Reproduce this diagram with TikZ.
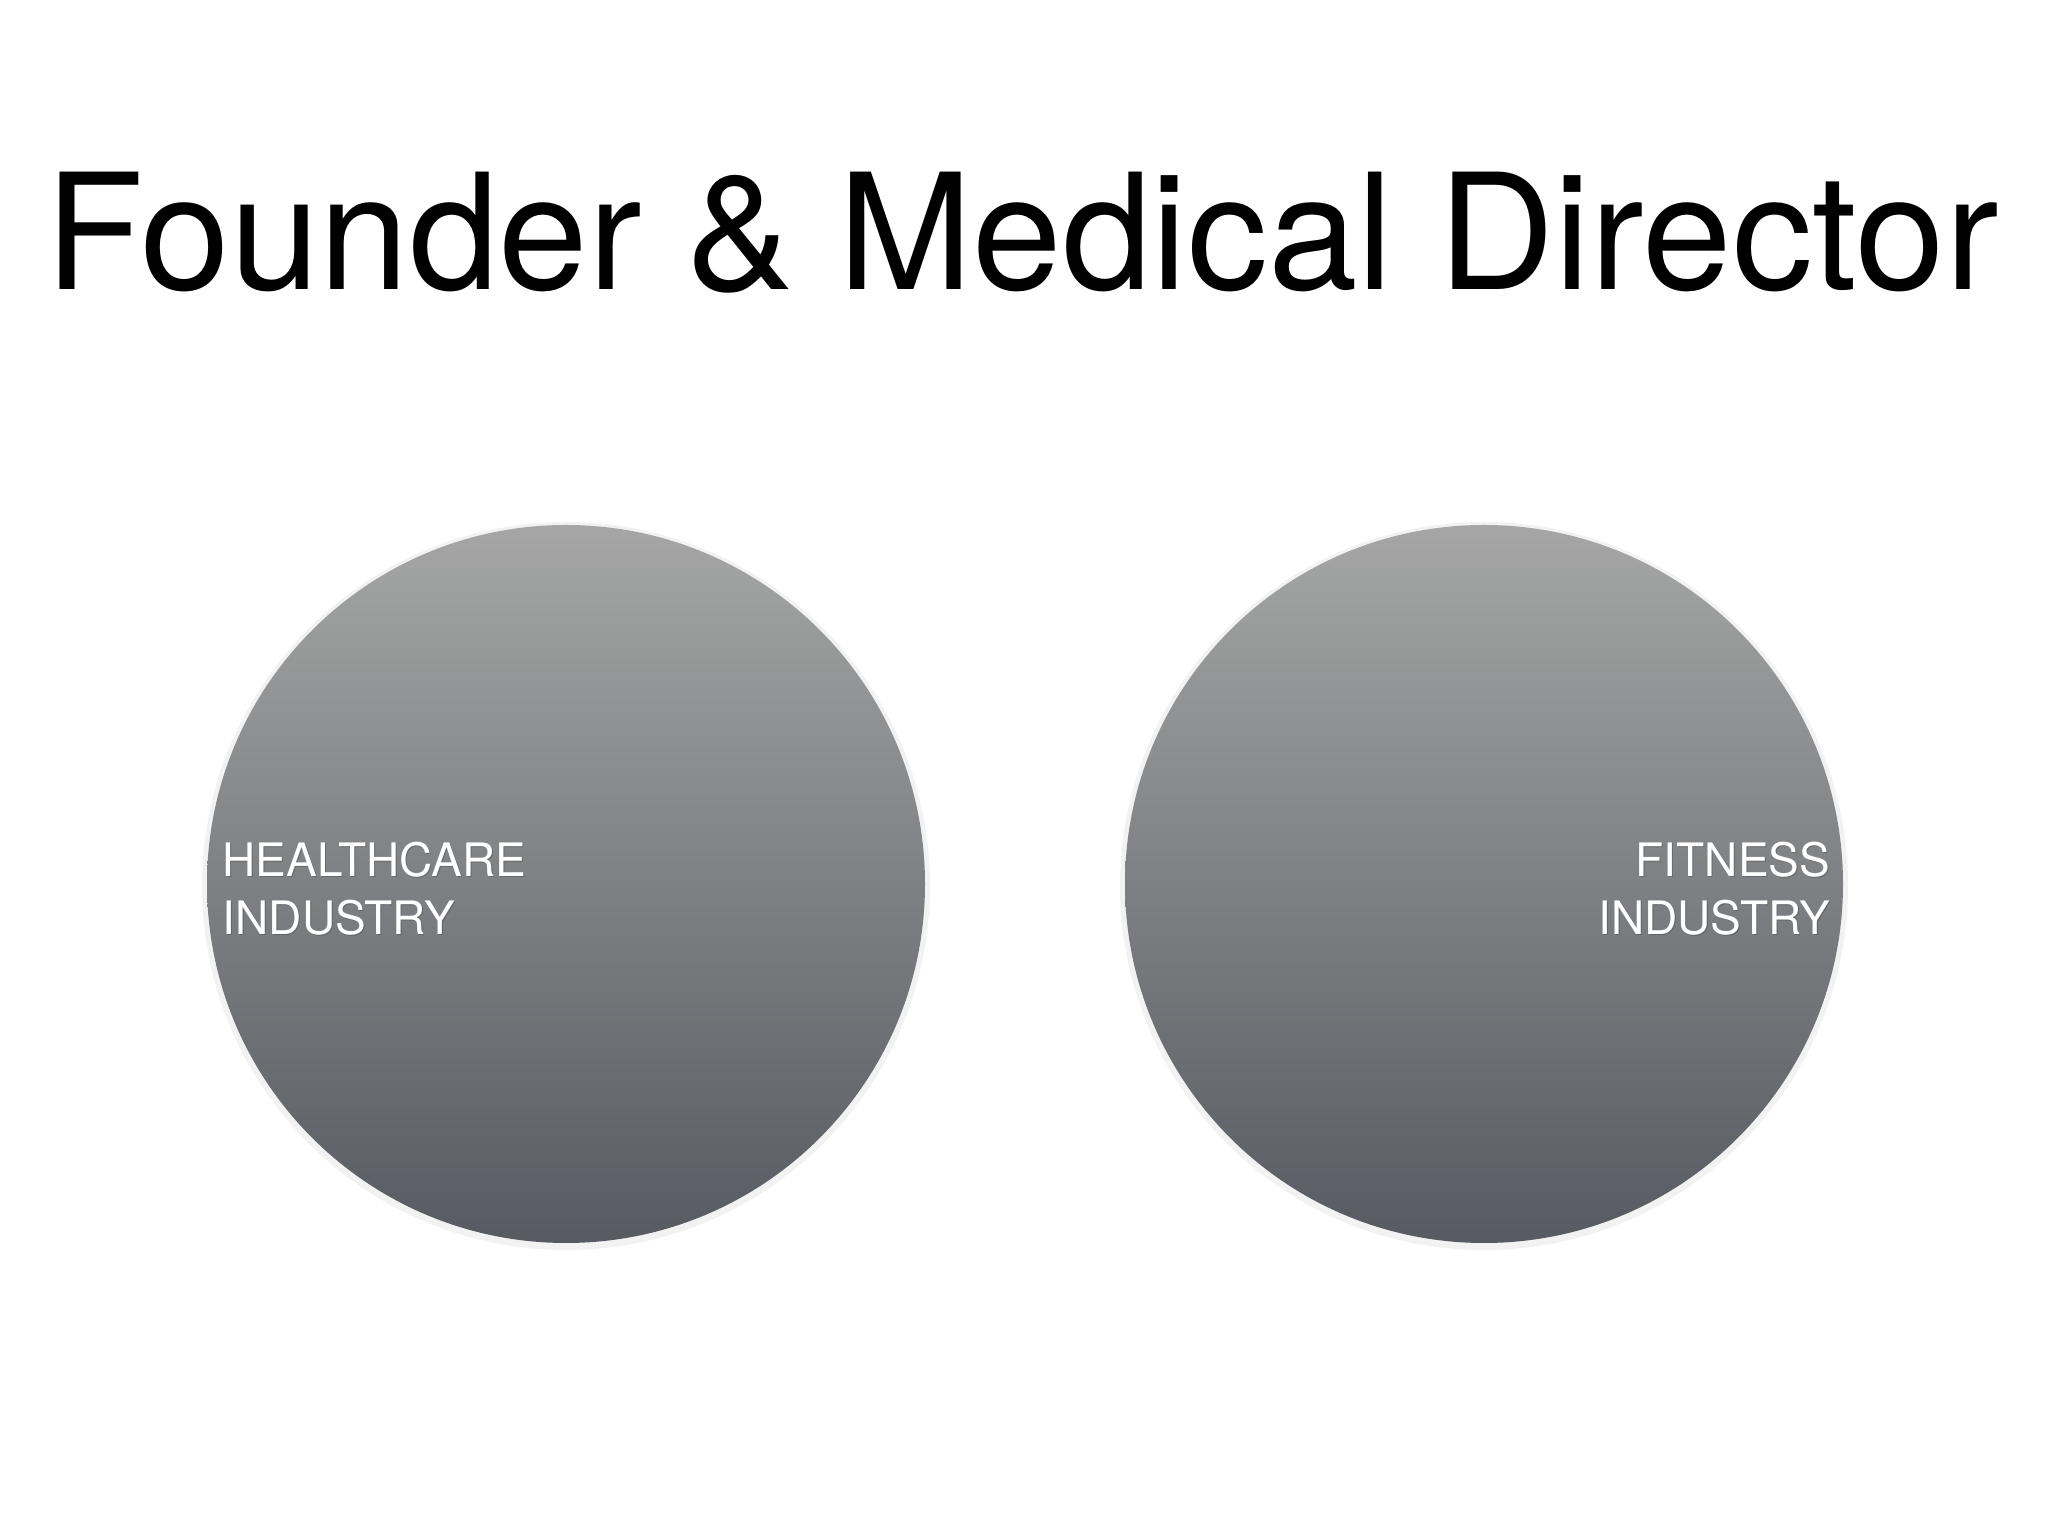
\documentclass[tikz,border=0pt]{standalone}
\usepackage{fontspec}
\setmainfont{TeX Gyre Heros}
\definecolor{balltop}{HTML}{A5A6A5}
\definecolor{ballmid}{HTML}{8A8B8B}
\definecolor{ballbot}{HTML}{575A61}
\tikzset{
  ball/.style={top color=balltop, middle color=ballmid, bottom color=ballbot},
  halo/.style={fill=black, opacity=0.05},
  tag/.style={text=white, inner sep=0pt, font=\fontsize{13.1}{16.5}\selectfont},
  tagshadow/.style={text=black, text opacity=0.2, inner sep=0pt, font=\fontsize{13.1}{16.5}\selectfont}
}

\begin{document}
\begin{tikzpicture}[x=0.01cm, y=0.01cm]
    \useasboundingbox (0,0) rectangle (2048,1536);
    \fill[white] (0,0) rectangle (2048,1536);
    % title
    \node (title) at (1022,1246) [anchor=base, inner sep=0pt, font=\fontsize{45.8}{54}\selectfont] {Founder \& Medical Director};
    % two circles
    \fill[halo] (566,650) circle (364);
    \fill[halo] (1484,650) circle (364);
    \shade[ball] (566,652) circle (359);
    \shade[ball] (1484,652) circle (359);
    % labels
    \node (hcs) at (223,694) [anchor=north west, align=left, tagshadow] {HEALTHCARE\\INDUSTRY};
    \node (hc) at (222,695) [anchor=north west, align=left, tag] {HEALTHCARE\\INDUSTRY};
    \node (fis) at (1832,694) [anchor=north east, align=right, tagshadow] {FITNESS\\INDUSTRY};
    \node (fi) at (1831,695) [anchor=north east, align=right, tag] {FITNESS\\INDUSTRY};
\end{tikzpicture}
\end{document}
